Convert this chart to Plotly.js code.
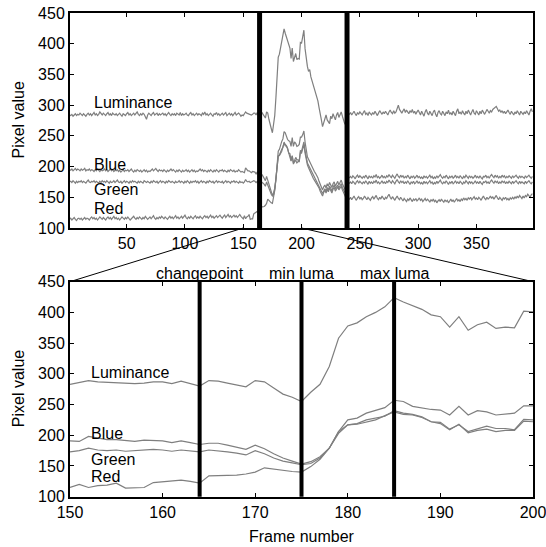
<!DOCTYPE html>
<html>
<head>
<meta charset="utf-8">
<script src="https://cdn.plot.ly/plotly-3.0.1.min.js"></script>
<style>html,body{margin:0;padding:0;background:#fff;}#chart{width:546px;height:547px;}</style>
</head>
<body>
<div id="chart"></div>
<script>
// ---------- data (frames 1..398) ----------
var firstFrame = 1;

var luminance = [
284,283,285,282,284,286,283,285,284,287,
285,283,286,284,282,285,287,284,286,283,
285,288,284,286,283,285,289,286,284,287,
285,283,286,288,284,286,283,287,285,284,
286,283,285,287,284,282,286,285,283,286,
288,284,286,283,285,287,284,286,289,285,
283,286,284,287,285,281,277,284,287,285,
283,286,288,284,285,287,283,286,284,285,
287,284,286,283,285,288,285,283,286,284,
286,283,287,285,284,288,283,286,284,285,
287,284,283,286,288,284,286,283,285,287,
284,286,285,283,287,285,289,284,286,283,
285,287,284,282,286,285,288,284,286,283,
285,287,284,286,288,283,285,287,284,286,
283,285,288,284,286,287,285,282,284,
283,286,289,287,286,286,285,284,285,287,
287,284,288,284,280,289,288,285,282,279,
289,287,277,267,262,255,270,283,312,358,
378,383,393,400,409,424,417,411,405,396,
393,376,393,371,380,384,374,376,375,402,
401,
410,422,392,372,363,355,358,346,340,334,
326,320,314,307,296,288,276,265,272,278,
284,276,272,270,282,278,286,280,276,284,
288,280,285,289,282,276,270,268,282,287,
285,288,284,287,290,286,283,288,285,289,
286,284,288,291,285,287,283,289,286,284,
288,285,290,286,283,287,291,288,285,289,
286,290,287,284,289,292,288,286,291,287,
289,295,300,293,290,287,291,294,288,292,
289,286,291,288,293,287,290,285,289,292,
288,284,290,286,282,289,293,287,284,290,
286,283,289,292,285,281,288,291,286,284,
290,287,283,289,286,292,285,288,284,290,
287,283,290,294,286,289,285,291,287,284,
290,286,292,288,284,289,293,287,285,291,
288,284,290,286,292,288,285,289,293,290,
287,291,289,293,295,297,298,294,290,292,
288,291,287,290,286,289,292,288,285,290,
287,284,289,286,291,288,284,290,287,285,
289,286,291,288,284,290,294,289
];

var blue = [
195,194,196,193,195,197,194,196,195,193,
196,194,195,197,193,195,194,196,193,195,
194,192,195,193,196,194,192,195,193,194,
196,193,195,192,194,196,193,195,192,194,
193,195,192,194,191,193,195,192,194,193,
195,192,194,196,193,191,194,192,195,193,
192,194,191,193,195,192,194,191,193,192,
194,196,193,195,197,194,192,195,193,194,
192,195,193,191,194,192,194,196,193,195,
193,191,194,192,195,193,191,194,192,193,
195,192,194,191,193,195,192,194,191,193,
192,194,196,193,195,192,194,193,191,194,
192,195,193,191,194,192,195,193,191,194,
193,195,192,194,193,191,194,192,195,193,
192,194,191,193,192,195,193,191,192,
191,190,198,195,193,193,191,190,192,191,
191,188,191,188,185,187,187,184,181,177,
184,178,170,163,158,153,157,165,179,206,
225,228,236,241,245,257,255,247,244,242,
241,233,247,233,240,238,233,234,236,248,
248,
252,258,240,225,216,212,208,202,200,195,
192,189,186,182,176,172,166,162,167,170,
165,172,168,174,170,166,172,175,168,172,
176,170,174,178,172,168,164,160,178,182,
182,184,181,185,183,180,184,186,182,185,
183,181,184,182,186,183,180,185,182,184,
181,185,183,187,182,184,181,183,186,182,
184,181,185,183,187,184,182,186,183,181,
185,188,184,182,186,183,185,181,184,182,
186,183,180,184,182,185,181,183,186,182,
184,181,183,180,185,182,184,181,183,186,
182,184,180,183,181,185,182,184,187,183,
181,184,182,186,183,180,184,182,185,181,
183,186,182,184,181,185,183,180,184,182,
186,183,181,185,182,184,181,183,186,182,
184,181,185,182,180,184,183,186,182,184,
181,185,187,184,182,186,183,185,181,184,
182,186,183,185,181,184,182,185,183,181,
185,182,184,186,183,181,185,182,184,183,
181,185,182,184,186,183,181,184
];

var green = [
175,176,174,177,175,173,176,174,176,175,
177,174,176,175,173,176,178,175,174,176,
175,177,174,176,175,173,176,174,177,175,
176,174,177,175,173,176,174,175,177,174,
176,178,175,174,176,173,175,177,174,176,
175,173,176,174,177,175,176,174,173,176,
174,176,175,173,177,175,174,176,175,173,
176,174,177,175,174,176,173,175,177,174,
176,175,173,176,174,177,175,174,176,175,
173,176,174,175,177,174,176,175,173,176,
174,177,175,173,176,174,176,175,177,174,
176,173,175,177,174,176,175,173,176,174,
177,175,174,176,173,175,177,174,176,175,
174,176,173,175,177,174,176,175,173,176,
175,177,174,176,175,173,176,174,175,
173,175,179,176,175,176,174,175,176,177,
176,174,176,175,173,176,175,173,171,168,
175,170,163,158,155,152,154,163,179,203,
217,219,225,228,231,240,236,234,230,222,
221,210,217,206,210,215,211,211,209,226,
225,
232,240,226,214,206,202,198,194,190,186,
183,180,176,172,168,164,159,156,160,164,
160,166,162,168,165,160,166,170,164,167,
170,165,168,172,166,162,158,155,170,174,
173,175,172,176,174,171,175,177,173,176,
174,172,175,173,177,174,171,176,173,175,
172,176,174,178,173,175,172,174,177,173,
175,172,176,174,178,175,173,177,174,172,
176,179,175,173,177,174,176,172,175,173,
177,174,171,175,173,176,172,174,177,173,
175,172,174,171,176,173,175,172,174,177,
173,175,171,174,172,176,173,175,178,174,
172,175,173,177,174,171,175,173,176,172,
174,177,173,175,172,176,174,171,175,173,
177,174,172,176,173,175,172,174,177,173,
175,172,176,173,171,175,174,177,173,175,
172,176,178,175,173,177,174,176,172,175,
173,177,174,176,172,175,173,176,174,172,
176,173,175,177,174,172,176,173,175,174,
172,176,173,175,177,174,172,175
];

var red = [
114,116,113,115,117,114,112,115,116,114,
116,113,115,117,114,116,115,113,116,118,
115,117,114,116,113,115,118,116,114,117,
115,113,116,118,115,117,114,116,119,115,
117,114,116,113,115,118,116,114,117,115,
118,116,113,115,117,119,116,114,117,115,
118,116,114,117,115,119,117,114,116,118,
115,117,120,116,114,117,115,118,116,119,
117,115,118,116,114,117,119,116,118,115,
117,120,116,118,115,117,119,116,118,121,
117,115,118,116,119,117,115,118,120,116,
118,116,119,117,115,118,120,117,119,116,
118,121,117,119,116,118,120,117,119,121,
118,116,119,121,117,119,122,118,120,117,
119,121,118,120,117,119,122,119,117,
115,120,115,118,119,122,114,115,115,123,
124,125,127,125,122,134,134,134,135,137,
140,147,145,142,141,140,149,161,179,206,
217,218,222,225,232,238,234,233,229,222,
219,209,218,204,208,210,206,208,208,223,
222,
230,236,222,210,203,198,193,188,185,181,
178,175,172,168,165,160,156,152,158,162,
157,163,159,165,161,157,163,166,160,164,
167,162,165,168,162,158,152,148,145,148,
147,150,146,149,152,148,145,149,151,147,
150,146,148,152,149,146,150,148,145,149,
151,147,150,153,148,146,150,147,152,149,
146,150,148,152,155,150,147,151,148,145,
149,152,148,146,150,147,144,148,146,143,
147,145,149,146,143,147,145,148,144,146,
149,145,147,143,146,148,144,147,145,142,
146,144,147,143,145,141,144,146,143,147,
144,142,146,143,145,141,144,147,143,146,
142,145,148,144,146,143,147,145,149,146,
148,145,149,147,150,146,148,151,147,149,
146,150,148,145,149,152,148,146,150,147,
149,152,148,151,147,150,153,149,146,150,
148,145,149,147,150,146,148,145,149,147,
150,147,151,148,152,149,153,150,148,152,
149,153,151,155,152,150,154,156
];

var seriesNames = ['Luminance', 'Blue', 'Green', 'Red'];
var topLabelY = [304, 204, 162, 132];
var bottomLabelY = [303, 203, 161, 133];
var topMarks = [164, 239];
var bottomMarks = [164, 175, 185];
var bottomMarkLabels = ['changepoint', 'min luma', 'max luma'];
var zoomRange = [150, 200];
var topXTicks = [50, 100, 150, 200, 250, 300, 350];
var bottomXTicks = [150, 160, 170, 180, 190, 200];
var yTicks = [100, 150, 200, 250, 300, 350, 400, 450];

// ---------- build ----------
var frames = luminance.map(function (_, i) { return firstFrame + i; });
var allSeries = [luminance, blue, green, red];

var W = 546, H = 547;
var xDom = [70 / W, 533 / W];
var yDomTop = [1 - 228 / H, 1 - 13 / H];
var yDomBot = [1 - 496.7 / H, 1 - 281.7 / H];
var topXRange = [1.4, 398.5];
var yRange = [100, 450];

var lineColor = '#7f7f7f';
var traces = [];
allSeries.forEach(function (s, k) {
  traces.push({x: frames, y: s, xaxis: 'x', yaxis: 'y', type: 'scatter', mode: 'lines',
    line: {color: lineColor, width: 1.2}, name: seriesNames[k], hoverinfo: 'skip'});
});
allSeries.forEach(function (s, k) {
  var xs = [], ys = [];
  for (var i = 0; i < s.length; i++) {
    var f = frames[i];
    if (f >= zoomRange[0] && f <= zoomRange[1]) { xs.push(f); ys.push(s[i]); }
  }
  traces.push({x: xs, y: ys, xaxis: 'x2', yaxis: 'y2', type: 'scatter', mode: 'lines',
    line: {color: lineColor, width: 1.2}, name: seriesNames[k], hoverinfo: 'skip'});
});

var font = {family: 'Liberation Sans, Arial, Helvetica, sans-serif', size: 16, color: '#000'};

function axisStyle(extra) {
  var a = {showline: true, linecolor: '#000', linewidth: 2, mirror: 'ticks', ticks: 'inside',
    ticklen: 4, tickwidth: 1, tickcolor: '#000', showgrid: false, zeroline: false,
    tickfont: font, fixedrange: true, ticklabeloverflow: 'allow'};
  for (var k in extra) a[k] = extra[k];
  return a;
}

var shapes = [];
topMarks.forEach(function (m) {
  shapes.push({type: 'line', xref: 'x', yref: 'y domain', x0: m, x1: m, y0: 0, y1: 1,
    line: {color: '#000', width: 5}});
});
bottomMarks.forEach(function (m) {
  shapes.push({type: 'line', xref: 'x2', yref: 'y2 domain', x0: m, x1: m, y0: 0, y1: 1,
    line: {color: '#000', width: 4}});
});
function topXToPaper(v) {
  return xDom[0] + (v - topXRange[0]) / (topXRange[1] - topXRange[0]) * (xDom[1] - xDom[0]);
}
// zoom connector lines
shapes.push({type: 'line', xref: 'paper', yref: 'paper',
  x0: topXToPaper(zoomRange[0]), y0: yDomTop[0], x1: xDom[0], y1: yDomBot[1],
  line: {color: '#000', width: 1}});
shapes.push({type: 'line', xref: 'paper', yref: 'paper',
  x0: topXToPaper(zoomRange[1]), y0: yDomTop[0], x1: xDom[1], y1: yDomBot[1],
  line: {color: '#000', width: 1}});

var annotations = [];
seriesNames.forEach(function (n, k) {
  annotations.push({text: n, xref: 'x', yref: 'y', x: 20, y: topLabelY[k], xanchor: 'left',
    yanchor: 'middle', showarrow: false, font: font});
  annotations.push({text: n, xref: 'x2', yref: 'y2', x: 152, y: bottomLabelY[k], xanchor: 'left',
    yanchor: 'middle', showarrow: false, font: font});
});
bottomMarks.forEach(function (m, k) {
  annotations.push({text: bottomMarkLabels[k], xref: 'x2', yref: 'paper', x: m, y: 1 - 273 / H,
    xanchor: 'center', yanchor: 'middle', showarrow: false, font: font});
});
annotations.push({text: 'Pixel value', xref: 'paper', yref: 'paper', x: 18 / W,
  y: (yDomTop[0] + yDomTop[1]) / 2, textangle: -90, xanchor: 'center', yanchor: 'middle',
  showarrow: false, font: font});
annotations.push({text: 'Pixel value', xref: 'paper', yref: 'paper', x: 18 / W,
  y: (yDomBot[0] + yDomBot[1]) / 2, textangle: -90, xanchor: 'center', yanchor: 'middle',
  showarrow: false, font: font});
annotations.push({text: 'Frame number', xref: 'paper', yref: 'paper', x: (xDom[0] + xDom[1]) / 2,
  y: 1 - 536 / H, xanchor: 'center', yanchor: 'middle', showarrow: false, font: font});

var layout = {
  width: W, height: H, margin: {l: 0, r: 0, t: 0, b: 0},
  paper_bgcolor: '#fff', plot_bgcolor: '#fff', showlegend: false, font: font,
  xaxis: axisStyle({domain: xDom, range: topXRange, anchor: 'y', tickmode: 'array',
    tickvals: topXTicks, ticktext: topXTicks.map(String)}),
  yaxis: axisStyle({domain: yDomTop, range: yRange, anchor: 'x', tickmode: 'array',
    tickvals: yTicks, ticktext: yTicks.map(String)}),
  xaxis2: axisStyle({domain: xDom, range: zoomRange, anchor: 'y2', tickmode: 'array',
    tickvals: bottomXTicks, ticktext: bottomXTicks.map(String)}),
  yaxis2: axisStyle({domain: yDomBot, range: yRange, anchor: 'x2', tickmode: 'array',
    tickvals: yTicks, ticktext: yTicks.map(String)}),
  shapes: shapes,
  annotations: annotations
};

Plotly.newPlot('chart', traces, layout, {staticPlot: true, displayModeBar: false});
</script>
</body>
</html>
